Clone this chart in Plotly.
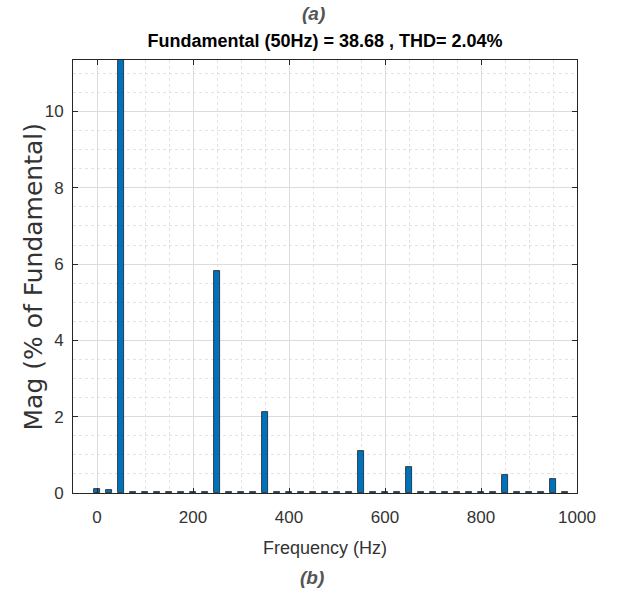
import plotly.graph_objects as go

# Harmonic spectrum data (frequency in Hz, magnitude in % of fundamental)
freqs = [0, 25, 50, 75, 100, 125, 150, 175, 200, 225,
         250, 275, 300, 325, 350, 375, 400, 425, 450, 475,
         500, 525, 550, 575, 600, 625, 650, 675, 700, 725,
         750, 775, 800, 825, 850, 875, 900, 925, 950, 975]
mags = [0.10, 0.07, 100.0, 0.03, 0.03, 0.03, 0.03, 0.03, 0.03, 0.03,
        5.82, 0.03, 0.03, 0.03, 2.13, 0.03, 0.03, 0.03, 0.03, 0.03,
        0.03, 0.03, 1.11, 0.03, 0.03, 0.03, 0.68, 0.03, 0.03, 0.03,
        0.03, 0.03, 0.03, 0.03, 0.48, 0.03, 0.03, 0.03, 0.36, 0.03]

x_ticks = [0, 200, 400, 600, 800, 1000]
y_ticks = [0, 2, 4, 6, 8, 10]

title_text = "Fundamental (50Hz) = 38.68 , THD= 2.04%"
sans = "Liberation Sans, Arial, sans-serif"
axis_col = "#262626"

fig = go.Figure()
fig.add_trace(go.Bar(
    x=freqs, y=mags, width=12,
    marker=dict(color="#0072BD", line=dict(color="#1a1a1a", width=0.8)),
    showlegend=False,
))

fig.update_layout(
    width=618, height=596,
    margin=dict(l=73, r=41, t=60, b=103),
    paper_bgcolor="white", plot_bgcolor="white",
    bargap=0,
    title=dict(text="<b>" + title_text + "</b>", x=325 / 618, xanchor="center",
               y=1 - 41 / 596, yanchor="middle",
               font=dict(family=sans, size=18, color="#000000")),
    xaxis=dict(
        range=[-50, 1000], tickvals=x_ticks, ticktext=[str(v) for v in x_ticks],
        ticks="inside", ticklen=5, tickcolor=axis_col,
        showline=True, linecolor=axis_col, linewidth=1, mirror="ticks",
        showgrid=True, gridcolor="#dcdcdc", gridwidth=1,
        minor=dict(dtick=50, tick0=0, showgrid=True, gridcolor="#e2e2e2",
                   griddash="dot", ticks=""),
        zeroline=False, ticklabelstandoff=9,
        tickfont=dict(family=sans, size=17, color="#333333"),
        title=dict(text="Frequency (Hz)", standoff=14,
                   font=dict(family=sans, size=18, color="#333333")),
    ),
    yaxis=dict(
        range=[0, 11.35], tickvals=y_ticks, ticktext=[str(v) for v in y_ticks],
        ticks="inside", ticklen=5, tickcolor=axis_col,
        showline=True, linecolor=axis_col, linewidth=1, mirror="ticks",
        showgrid=True, gridcolor="#dcdcdc", gridwidth=1,
        minor=dict(dtick=0.5, tick0=0, showgrid=True, gridcolor="#e2e2e2",
                   griddash="dot", ticks=""),
        zeroline=False, ticklabelstandoff=5,
        tickfont=dict(family=sans, size=17, color="#333333"),
    ),
    annotations=[
        dict(text="Mag (% of Fundamental)", textangle=-90,
             xref="paper", yref="paper", x=(33 - 73) / 504, y=0.5,
             xanchor="center", yanchor="middle", showarrow=False,
             font=dict(family="DejaVu Sans, sans-serif", size=25, color="#333333")),
        dict(text="<b><i>(a)</i></b>", xref="paper", yref="paper",
             x=(313 - 73) / 504, y=1 + (60 - 13) / 433,
             xanchor="center", yanchor="middle", showarrow=False,
             font=dict(family=sans, size=19, color="#555555")),
        dict(text="<b><i>(b)</i></b>", xref="paper", yref="paper",
             x=(312 - 73) / 504, y=-(577 - 493) / 433,
             xanchor="center", yanchor="middle", showarrow=False,
             font=dict(family=sans, size=19, color="#555555")),
    ],
)

fig.write_html("out.html")
